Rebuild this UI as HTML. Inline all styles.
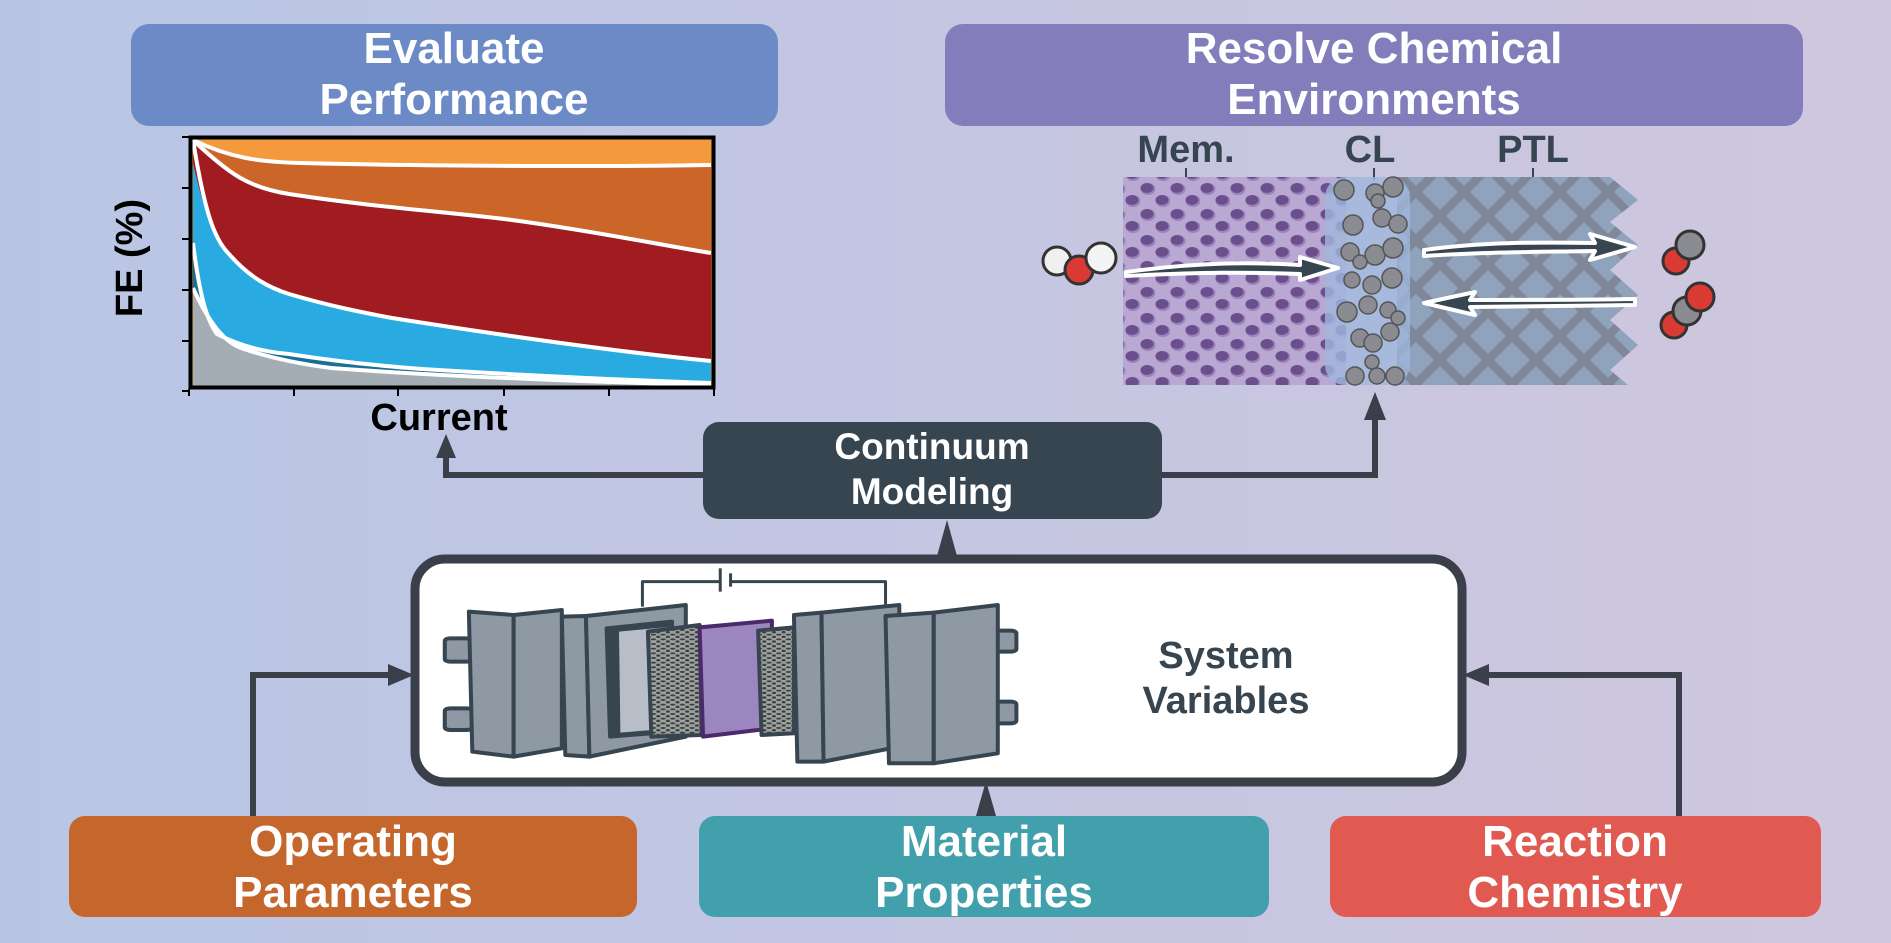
<!DOCTYPE html>
<html><head><meta charset="utf-8"><style>
html,body{margin:0;padding:0;width:1891px;height:943px;overflow:hidden}
text{font-family:"Liberation Sans",sans-serif;font-weight:bold}
</style></head><body>
<svg width="1891" height="943" viewBox="0 0 1891 943" xmlns="http://www.w3.org/2000/svg">
<defs>
<linearGradient id="bg" x1="0" x2="1" y1="0" y2="0">
<stop offset="0" stop-color="#b8c6e4"/><stop offset="0.5" stop-color="#c4c6e2"/><stop offset="1" stop-color="#cfc7dd"/>
</linearGradient>
<pattern id="mem" width="30" height="26" patternUnits="userSpaceOnUse">
<rect width="30" height="26" fill="#b9a8d2"/>
<ellipse cx="8" cy="7" rx="7.5" ry="6" fill="#9a83bd"/>
<ellipse cx="7" cy="6" rx="6.5" ry="5" fill="#6a4f8c"/>
<ellipse cx="23" cy="19" rx="7.5" ry="6" fill="#9a83bd"/>
<ellipse cx="22" cy="18" rx="6.5" ry="5" fill="#6a4f8c"/>
</pattern>
<pattern id="ptl" width="48" height="48" patternUnits="userSpaceOnUse">
<rect width="48" height="48" fill="#7f8798"/>
<polygon points="24,6 42,24 24,42 6,24" fill="#90a3bd"/>
<polygon points="0,-18 18,0 0,18 -18,0" fill="#90a3bd"/>
<polygon points="48,-18 66,0 48,18 30,0" fill="#90a3bd"/>
<polygon points="0,30 18,48 0,66 -18,48" fill="#90a3bd"/>
<polygon points="48,30 66,48 48,66 30,48" fill="#90a3bd"/>
</pattern>
<pattern id="por" width="14" height="14" patternUnits="userSpaceOnUse">
<rect width="14" height="14" fill="#9ea2a0"/>
<ellipse cx="4" cy="4" rx="4" ry="3" fill="#3a403d"/>
<ellipse cx="11" cy="11" rx="3" ry="4" fill="#3a403d"/>
</pattern>
</defs>
<rect width="1891" height="943" fill="url(#bg)"/>

<rect x="131" y="24" width="647" height="102" rx="18" fill="#6c8bc6"/>
<text x="454" y="63" font-size="44" fill="#fff" text-anchor="middle">Evaluate</text>
<text x="454" y="114" font-size="44" fill="#fff" text-anchor="middle">Performance</text>
<rect x="945" y="24" width="858" height="102" rx="18" fill="#837dbb"/>
<text x="1374" y="63" font-size="44" fill="#fff" text-anchor="middle">Resolve Chemical</text>
<text x="1374" y="114" font-size="44" fill="#fff" text-anchor="middle">Environments</text>

<g>
<rect x="189" y="137" width="526" height="252" fill="#f59a3c"/>
<path d="M193,140 C230,158 260,162 301,163 C420,166 600,167 711,165 L711,387 L193,387Z" fill="#cc6628"/>
<path d="M193,140 C230,175 250,188 289,194 C380,208 450,212 512,220 C600,232 660,245 711,253 L711,387 L193,387Z" fill="#a01c20"/>
<path d="M193,163 C205,215 215,240 229,254 C250,278 270,288 289,294 C330,306 360,312 392,318 C500,335 620,352 711,361 L711,387 L193,387Z" fill="#29abe2"/>
<path d="M193,243 C200,300 208,322 217,334 C240,346 265,352 289,354 C340,362 380,366 422,369 C520,375 620,380 711,383 L711,387 L193,387Z" fill="#1a6f98"/>
<path d="M193,288 C210,325 225,342 241,348 C270,358 300,364 331,368 C450,377 600,382 711,385 L711,387 L193,387Z" fill="#a4acb4"/>
<g fill="none" stroke="#fff" stroke-width="4">
<path d="M193,140 C230,158 260,162 301,163 C420,166 600,167 711,165"/>
<path d="M193,140 C230,175 250,188 289,194 C380,208 450,212 512,220 C600,232 660,245 711,253"/>
<path d="M193,140 C205,215 215,240 229,254 C250,278 270,288 289,294 C330,306 360,312 392,318 C500,335 620,352 711,361"/>
<path d="M193,243 C200,300 208,322 217,334 C240,346 265,352 289,354 C340,362 380,366 422,369 C520,375 620,380 711,383"/>
<path d="M193,288 C210,325 225,342 241,348 C270,358 300,364 331,368 C450,377 600,382 711,385"/>
</g>
<rect x="190.5" y="137.5" width="523" height="250" fill="none" stroke="#000" stroke-width="4"/>
<g stroke="#000" stroke-width="2">
<line x1="182" y1="137" x2="189" y2="137"/><line x1="182" y1="188" x2="189" y2="188"/><line x1="182" y1="239" x2="189" y2="239"/><line x1="182" y1="290" x2="189" y2="290"/><line x1="182" y1="341" x2="189" y2="341"/><line x1="182" y1="391" x2="189" y2="391"/>
<line x1="189" y1="389" x2="189" y2="396"/><line x1="294" y1="389" x2="294" y2="396"/><line x1="398" y1="389" x2="398" y2="396"/><line x1="504" y1="389" x2="504" y2="396"/><line x1="609" y1="389" x2="609" y2="396"/><line x1="714" y1="389" x2="714" y2="396"/>
</g>
<text transform="translate(142,258) rotate(-90)" font-size="38" fill="#000" text-anchor="middle">FE (%)</text>
<text x="439" y="430" font-size="38" fill="#000" text-anchor="middle">Current</text>
</g>

<g>
<text x="1186" y="162" font-size="38" fill="#36454f" text-anchor="middle">Mem.</text>
<text x="1370" y="162" font-size="38" fill="#36454f" text-anchor="middle">CL</text>
<text x="1533" y="162" font-size="38" fill="#36454f" text-anchor="middle">PTL</text>
<g stroke="#36454f" stroke-width="2"><line x1="1186" y1="168" x2="1186" y2="180"/><line x1="1374" y1="168" x2="1374" y2="180"/><line x1="1533" y1="168" x2="1533" y2="180"/><line x1="1575" y1="190" x2="1608" y2="178"/></g>
<rect x="1123" y="177" width="223" height="208" fill="url(#mem)"/>
<polygon points="1397,177 1610,177 1638,200 1610,222 1638,245 1610,270 1638,295 1610,320 1638,345 1610,370 1628,385 1397,385" fill="url(#ptl)"/>
<rect x="1325" y="177" width="85" height="208" rx="20" fill="#9fb7dc" opacity="0.8"/>
<g fill="#8a8c92" stroke="#555" stroke-width="1.5">
<circle cx="1344" cy="190" r="10"/><circle cx="1393" cy="187" r="10"/><circle cx="1375" cy="193" r="9"/><circle cx="1378" cy="201" r="7"/>
<circle cx="1353" cy="225" r="10"/><circle cx="1382" cy="218" r="9"/><circle cx="1398" cy="224" r="9"/>
<circle cx="1350" cy="252" r="9"/><circle cx="1375" cy="255" r="10"/><circle cx="1393" cy="248" r="10"/><circle cx="1360" cy="262" r="7"/>
<circle cx="1352" cy="280" r="8"/><circle cx="1372" cy="285" r="9"/><circle cx="1392" cy="278" r="10"/>
<circle cx="1347" cy="312" r="10"/><circle cx="1368" cy="305" r="9"/><circle cx="1388" cy="310" r="8"/><circle cx="1398" cy="318" r="7"/>
<circle cx="1360" cy="338" r="9"/><circle cx="1390" cy="332" r="9"/><circle cx="1373" cy="343" r="9"/>
<circle cx="1372" cy="362" r="7"/><circle cx="1355" cy="376" r="9"/><circle cx="1377" cy="376" r="8"/><circle cx="1395" cy="376" r="9"/>
</g>
<g stroke="#fff" stroke-width="4" stroke-linejoin="round">
<path d="M1126,272 C1200,262 1250,262 1300,265 L1300,257 L1338,268 L1300,280 L1300,274 C1250,272 1200,272 1126,276Z" fill="#36454f"/>
<path d="M1424,250 C1480,242 1540,242 1595,243 L1590,234 L1635,247 L1590,260 L1595,251 C1540,252 1480,252 1424,256Z" fill="#36454f"/>
<path d="M1635,299 C1580,300 1520,300 1470,300 L1475,292 L1424,303 L1475,315 L1470,307 C1520,306 1580,306 1635,305Z" fill="#36454f"/>
</g>
<g stroke="#333" stroke-width="3">
<circle cx="1057" cy="261" r="14" fill="#f0f0f0"/>
<circle cx="1079" cy="270" r="14" fill="#d93a34"/>
<circle cx="1101" cy="258" r="15" fill="#f4f4f4"/>
<circle cx="1676" cy="261" r="13" fill="#d93a34"/>
<circle cx="1690" cy="245" r="14" fill="#8a8c92"/>
<circle cx="1674" cy="325" r="13" fill="#d93a34"/>
<circle cx="1687" cy="311" r="14" fill="#8a8c92"/>
<circle cx="1700" cy="297" r="14" fill="#d93a34"/>
</g>
</g>

<g stroke="#3a3f4a" stroke-width="6" fill="none">
<polyline points="703,475 446,475 446,450"/>
<polyline points="1161,475 1375,475 1375,410"/>
<polyline points="253,816 253,675 395,675"/>
<polyline points="1679,816 1679,675 1480,675"/>
</g>
<g fill="#3a3f4a">
<polygon points="446,434 436,458 456,458"/>
<polygon points="1375,392 1364,420 1386,420"/>
<polygon points="947,520 937,556 957,556"/>
<polygon points="986,781 976,816 996,816"/>
<polygon points="414,675 388,664 388,686"/>
<polygon points="1463,675 1489,664 1489,686"/>
</g>

<rect x="703" y="422" width="459" height="97" rx="16" fill="#36454f"/>
<text x="932" y="459" font-size="37" fill="#fff" text-anchor="middle">Continuum</text>
<text x="932" y="504" font-size="37" fill="#fff" text-anchor="middle">Modeling</text>

<rect x="415" y="559" width="1047" height="223" rx="30" fill="#fff" stroke="#3a3f4a" stroke-width="9"/>
<text x="1226" y="668" font-size="38" fill="#36454f" text-anchor="middle">System</text>
<text x="1226" y="713" font-size="38" fill="#36454f" text-anchor="middle">Variables</text>

<g transform="translate(400,540) scale(0.6887,0.3333)" stroke="#36454f" stroke-linejoin="round">
<path d="M352,200 L352,125 L465,125 M480,125 L705,125 L705,200" fill="none" stroke-width="3" vector-effect="non-scaling-stroke"/>
<line x1="465" y1="85" x2="465" y2="155" stroke-width="3" vector-effect="non-scaling-stroke"/><line x1="480" y1="100" x2="480" y2="140" stroke-width="3" vector-effect="non-scaling-stroke"/>
<g stroke-width="4">
<rect x="65" y="295" width="40" height="70" rx="8" fill="#8f99a4" vector-effect="non-scaling-stroke"/>
<rect x="65" y="505" width="40" height="65" rx="8" fill="#8f99a4" vector-effect="non-scaling-stroke"/>
<polygon points="100,215 165,225 165,650 105,635" fill="#8f99a4" vector-effect="non-scaling-stroke"/>
<polygon points="165,225 235,210 235,625 165,650" fill="#8f99a4" vector-effect="non-scaling-stroke"/>
<polygon points="235,230 270,228 275,650 240,645" fill="#8f99a4" vector-effect="non-scaling-stroke"/>
<polygon points="270,228 415,195 415,590 275,650" fill="#8f99a4" vector-effect="non-scaling-stroke"/>
<polygon points="300,265 395,245 395,575 305,590" fill="#36454f" vector-effect="non-scaling-stroke"/>
<polygon points="318,275 395,260 395,565 320,578" fill="#b8bec8" stroke="none"/>
<polygon points="360,275 435,255 438,585 365,590" fill="url(#por)" vector-effect="non-scaling-stroke"/>
<polygon points="435,262 540,242 540,565 440,590" fill="#9b86bf" stroke="#4a2a6a" vector-effect="non-scaling-stroke"/>
<polygon points="520,272 572,262 572,580 525,585" fill="url(#por)" vector-effect="non-scaling-stroke"/>
<polygon points="572,225 612,218 615,665 577,665" fill="#8f99a4" vector-effect="non-scaling-stroke"/>
<polygon points="612,218 725,195 725,620 615,665" fill="#8f99a4" vector-effect="non-scaling-stroke"/>
<rect x="840" y="272" width="55" height="63" rx="8" fill="#8f99a4" vector-effect="non-scaling-stroke"/>
<rect x="840" y="485" width="55" height="65" rx="8" fill="#8f99a4" vector-effect="non-scaling-stroke"/>
<polygon points="705,228 775,218 775,670 710,670" fill="#8f99a4" vector-effect="non-scaling-stroke"/>
<polygon points="775,218 868,195 868,640 775,670" fill="#8f99a4" vector-effect="non-scaling-stroke"/>
</g>
</g>

<rect x="69" y="816" width="568" height="101" rx="16" fill="#c5672c"/>
<text x="353" y="856" font-size="44" fill="#fff" text-anchor="middle">Operating</text>
<text x="353" y="907" font-size="44" fill="#fff" text-anchor="middle">Parameters</text>
<rect x="699" y="816" width="570" height="101" rx="16" fill="#42a0ac"/>
<text x="984" y="856" font-size="44" fill="#fff" text-anchor="middle">Material</text>
<text x="984" y="907" font-size="44" fill="#fff" text-anchor="middle">Properties</text>
<rect x="1330" y="816" width="491" height="101" rx="16" fill="#e05a52"/>
<text x="1575" y="856" font-size="44" fill="#fff" text-anchor="middle">Reaction</text>
<text x="1575" y="907" font-size="44" fill="#fff" text-anchor="middle">Chemistry</text>
</svg>
</body></html>
